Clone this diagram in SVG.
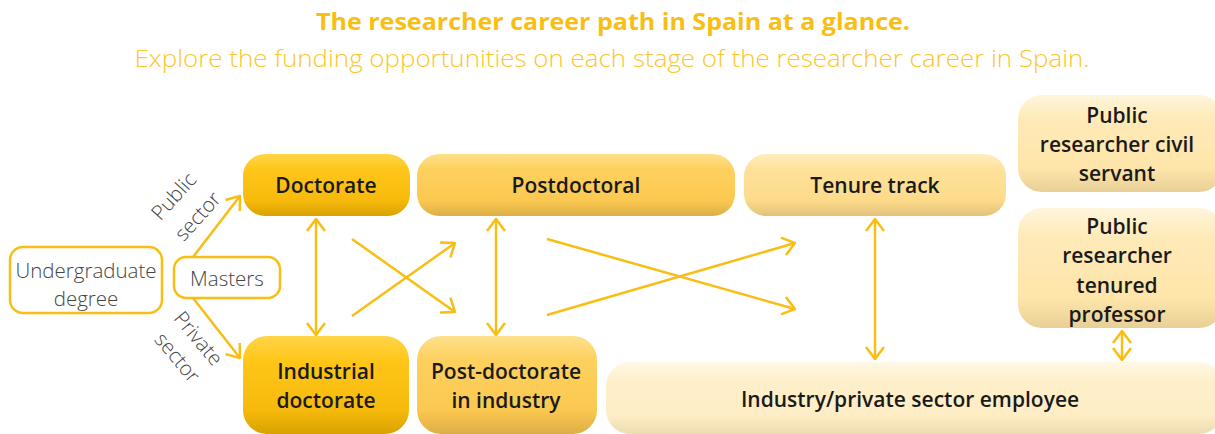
<svg xmlns="http://www.w3.org/2000/svg" width="1215" height="434" viewBox="0 0 1215 434">
<style>
.title{font-family:"Open Sans","Liberation Sans",sans-serif;font-weight:700;fill:#F9BE13;text-anchor:middle}
.sub{font-family:"Open Sans","Liberation Sans",sans-serif;font-weight:300;fill:#FBC62E;text-anchor:middle}
.lbl{font-family:"Open Sans","Liberation Sans",sans-serif;font-weight:600;font-size:21px;fill:#1a1a1a;text-anchor:middle}
.lite{font-family:"Open Sans","Liberation Sans",sans-serif;font-weight:300;font-size:20.5px;fill:#444;text-anchor:middle}
.obox{fill:#fff;stroke:#F9BE13;stroke-width:2.5}
.conn{fill:none;stroke:#F9BE13;stroke-width:2.5}
</style>
<defs>
<marker id="ah" viewBox="0 0 14 20" refX="13" refY="10" markerWidth="14" markerHeight="20" markerUnits="userSpaceOnUse" orient="auto-start-reverse">
<path d="M1,1 L13,10 L1,19" fill="none" stroke="#F9BE13" stroke-width="2.5"/>
</marker>
<linearGradient id="g1" x1="0" y1="0" x2="0" y2="1">
<stop offset="0" stop-color="#FFD548"/><stop offset="0.25" stop-color="#FEC619"/><stop offset="0.75" stop-color="#F7BA0C"/><stop offset="1" stop-color="#D8A200"/>
</linearGradient>
<linearGradient id="g2" x1="0" y1="0" x2="0" y2="1">
<stop offset="0" stop-color="#FEE08C"/><stop offset="0.25" stop-color="#FDD05E"/><stop offset="0.75" stop-color="#FBC950"/><stop offset="1" stop-color="#DDAE48"/>
</linearGradient>
<linearGradient id="g3" x1="0" y1="0" x2="0" y2="1">
<stop offset="0" stop-color="#FFEDBE"/><stop offset="0.25" stop-color="#FEE19A"/><stop offset="0.75" stop-color="#FDDB8A"/><stop offset="1" stop-color="#E2C17C"/>
</linearGradient>
<linearGradient id="g4" x1="0" y1="0" x2="0" y2="1">
<stop offset="0" stop-color="#FFF5DC"/><stop offset="0.25" stop-color="#FEEAB8"/><stop offset="0.75" stop-color="#FEE5AA"/><stop offset="1" stop-color="#E8CF96"/>
</linearGradient>
<linearGradient id="g5" x1="0" y1="0" x2="0" y2="1">
<stop offset="0" stop-color="#FFF8E6"/><stop offset="0.25" stop-color="#FEF0CC"/><stop offset="0.75" stop-color="#FEEDC4"/><stop offset="1" stop-color="#EDDCB2"/>
</linearGradient>
</defs>

<text class="title" x="613" y="30" font-size="24" textLength="594" lengthAdjust="spacingAndGlyphs">The researcher career path in Spain at a glance.</text>
<text class="sub" x="612" y="67" font-size="24" textLength="955" lengthAdjust="spacingAndGlyphs">Explore the funding opportunities on each stage of the researcher career in Spain.</text>

<g id="connectors">
<path class="conn" d="M193,257 L240,196" marker-end="url(#ah)"/>
<path class="conn" d="M193,298 L240,358" marker-end="url(#ah)"/>
<path class="conn" d="M316,219 L316,335" marker-start="url(#ah)" marker-end="url(#ah)"/>
<path class="conn" d="M352,239 L455,312" marker-end="url(#ah)"/>
<path class="conn" d="M352,316 L455,243" marker-end="url(#ah)"/>
<path class="conn" d="M496,219 L496,335" marker-start="url(#ah)" marker-end="url(#ah)"/>
<path class="conn" d="M547,239 L795,309" marker-end="url(#ah)"/>
<path class="conn" d="M547,315 L795,243" marker-end="url(#ah)"/>
<path class="conn" d="M875,219 L875,359" marker-start="url(#ah)" marker-end="url(#ah)"/>
<path class="conn" d="M1122,331 L1122,360" marker-start="url(#ah)" marker-end="url(#ah)"/>
</g>

<g id="label-public">
<text class="lite" transform="translate(179,201) rotate(-48)">Public</text>
<text class="lite" transform="translate(203,221) rotate(-48)">sector</text>
</g>
<g id="label-private">
<text class="lite" transform="translate(193,343) rotate(50)">Private</text>
<text class="lite" transform="translate(172,362) rotate(50)">sector</text>
</g>

<g id="undergraduate">
<rect class="obox" x="10" y="247" width="152" height="66" rx="13"/>
<text class="lite" x="86" y="278">Undergraduate</text>
<text class="lite" x="86" y="306">degree</text>
</g>
<g id="masters">
<rect class="obox" x="174" y="257" width="106" height="41" rx="12"/>
<text class="lite" x="227" y="286">Masters</text>
</g>
<g id="doctorate">
<rect x="243" y="154" width="167" height="62" rx="22" fill="url(#g1)"/>
<text class="lbl" x="326" y="193">Doctorate</text>
</g>
<g id="postdoctoral">
<rect x="417" y="154" width="318" height="62" rx="22" fill="url(#g2)"/>
<text class="lbl" x="576" y="193">Postdoctoral</text>
</g>
<g id="tenure-track">
<rect x="744" y="154" width="262" height="62" rx="22" fill="url(#g3)"/>
<text class="lbl" x="875" y="193">Tenure track</text>
</g>
<g id="civil-servant">
<rect x="1018" y="95" width="205" height="97" rx="24" fill="url(#g4)"/>
<text class="lbl" x="1117" y="123">Public</text>
<text class="lbl" x="1117" y="152">researcher civil</text>
<text class="lbl" x="1117" y="181">servant</text>
</g>
<g id="tenured-professor">
<rect x="1018" y="208" width="205" height="120" rx="24" fill="url(#g4)"/>
<text class="lbl" x="1117" y="234">Public</text>
<text class="lbl" x="1117" y="263">researcher</text>
<text class="lbl" x="1117" y="293">tenured</text>
<text class="lbl" x="1117" y="322">professor</text>
</g>
<g id="industrial-doctorate">
<rect x="243" y="336" width="166" height="98" rx="24" fill="url(#g1)"/>
<text class="lbl" x="326" y="379">Industrial</text>
<text class="lbl" x="326" y="408">doctorate</text>
</g>
<g id="postdoc-industry">
<rect x="417" y="336" width="180" height="98" rx="24" fill="url(#g2)"/>
<text class="lbl" x="506" y="379">Post-doctorate</text>
<text class="lbl" x="506" y="408">in industry</text>
</g>
<g id="industry-employee">
<rect x="606" y="362" width="617" height="72" rx="24" fill="url(#g5)"/>
<text class="lbl" x="910" y="407">Industry/private sector employee</text>
</g>
</svg>
